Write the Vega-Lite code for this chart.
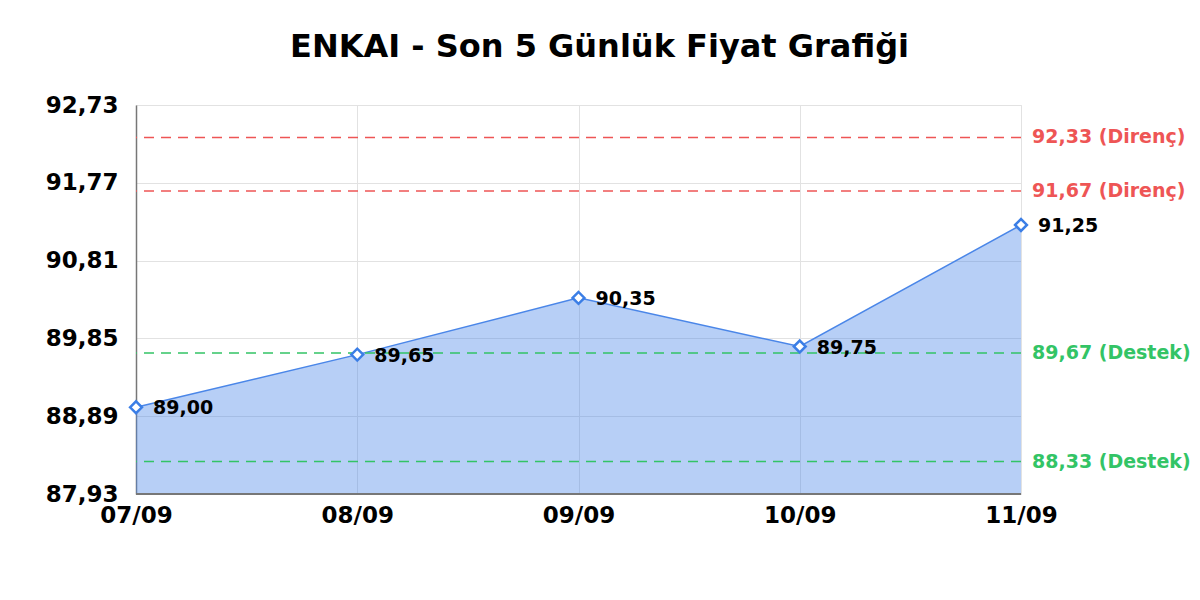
{
  "$schema": "https://vega.github.io/schema/vega-lite/v6.json",
  "width": 885,
  "height": 389,
  "autosize": {"type": "none"},
  "padding": {"left": 136, "top": 105, "right": 179, "bottom": 106},
  "background": "white",
  "title": {
    "text": "ENKAI - Son 5 Günlük Fiyat Grafiği",
    "font": "DejaVu Sans",
    "fontSize": 32,
    "fontWeight": "bold",
    "color": "black",
    "anchor": "middle",
    "dx": 21,
    "offset": 30
  },
  "datasets": {
    "prices": [
      {"date": "07/09", "price": 89.00},
      {"date": "08/09", "price": 89.65},
      {"date": "09/09", "price": 90.35},
      {"date": "10/09", "price": 89.75},
      {"date": "11/09", "price": 91.25}
    ],
    "levels": [
      {"level": 92.33, "kind": "Direnç", "label": "92,33 (Direnç)"},
      {"level": 91.67, "kind": "Direnç", "label": "91,67 (Direnç)"},
      {"level": 89.67, "kind": "Destek", "label": "89,67 (Destek)"},
      {"level": 88.33, "kind": "Destek", "label": "88,33 (Destek)"}
    ]
  },
  "encoding": {
    "x": {
      "field": "date",
      "type": "ordinal",
      "scale": {"type": "point", "padding": 0},
      "axis": {
        "title": null,
        "labelAngle": 0,
        "ticks": false,
        "labelPadding": 10,
        "labelFontSize": 23,
        "labelFontWeight": "bold",
        "labelFont": "DejaVu Sans",
        "labelColor": "black",
        "grid": true,
        "gridColor": "#e2e2e2",
        "domain": false
      }
    },
    "y": {
      "field": "price",
      "type": "quantitative",
      "scale": {"domain": [87.93, 92.73], "nice": false, "zero": false},
      "axis": {
        "title": null,
        "values": [87.93, 88.89, 89.85, 90.81, 91.77, 92.73],
        "format": ".2f",
        "ticks": false,
        "labelPadding": 18,
        "labelFontSize": 23,
        "labelFontWeight": "bold",
        "labelFont": "DejaVu Sans",
        "labelColor": "black",
        "grid": true,
        "gridColor": "#e2e2e2",
        "domainColor": "#777777",
        "domainWidth": 1.5
      }
    }
  },
  "layer": [
    {
      "data": {"name": "prices"},
      "mark": {"type": "area", "color": "#4a86e8", "opacity": 0.4, "clip": true},
      "encoding": {"y2": {"datum": 87.93}}
    },
    {
      "data": {"name": "prices"},
      "mark": {"type": "line", "color": "#4a86e8", "strokeWidth": 1.5}
    },
    {
      "data": {"name": "prices"},
      "mark": {"type": "rule", "color": "#777777", "strokeWidth": 1.5},
      "encoding": {"x": null, "y": {"datum": 87.93}}
    },
    {
      "data": {"name": "levels"},
      "mark": {"type": "rule", "strokeDash": [10, 7], "strokeWidth": 1.5},
      "encoding": {
        "x": null,
        "y": {"field": "level", "type": "quantitative"},
        "color": {
          "field": "kind",
          "type": "nominal",
          "scale": {"domain": ["Direnç", "Destek"], "range": ["#ee5555", "#33c466"]},
          "legend": null
        }
      }
    },
    {
      "data": {"name": "levels"},
      "mark": {"type": "text", "align": "left", "baseline": "middle", "dx": 11, "fontSize": 19, "fontWeight": "bold", "font": "DejaVu Sans"},
      "encoding": {
        "x": {"datum": "11/09", "type": "ordinal"},
        "y": {"field": "level", "type": "quantitative"},
        "text": {"field": "label"},
        "color": {
          "field": "kind",
          "type": "nominal",
          "scale": {"domain": ["Direnç", "Destek"], "range": ["#ee5555", "#33c466"]},
          "legend": null
        }
      }
    },
    {
      "data": {"name": "prices"},
      "mark": {"type": "point", "shape": "diamond", "filled": true, "fill": "white", "stroke": "#3b7ee6", "strokeWidth": 2.5, "size": 140, "opacity": 1}
    },
    {
      "data": {"name": "prices"},
      "mark": {"type": "text", "align": "left", "baseline": "middle", "dx": 17, "dy": 1, "fontSize": 19, "fontWeight": "bold", "font": "DejaVu Sans", "color": "black"},
      "encoding": {"text": {"field": "price", "type": "quantitative", "format": ".2f"}}
    }
  ],
  "config": {
    "locale": {"number": {"decimal": ",", "thousands": ".", "grouping": [3], "currency": ["", " TL"]}},
    "view": {"stroke": "#e2e2e2"}
  }
}
